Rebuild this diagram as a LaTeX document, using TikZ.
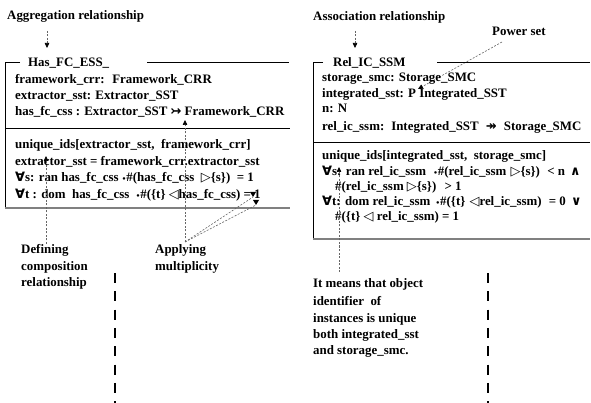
\documentclass[tikz,border=0pt]{standalone}
\usepackage{fontspec}
\setmainfont{Liberation Serif}
\newfontfamily\sym{DejaVu Sans}
\usetikzlibrary{arrows.meta}
\newcommand{\dotop}{{\fontsize{7}{7}\selectfont\sym •}}
\newcommand{\fa}{{\sym ∀}}
\begin{document}
\begin{tikzpicture}[x=1pt,y=-1pt,
  txt/.style={anchor=base west, inner sep=0pt, font=\bfseries\fontsize{12.9}{15}\selectfont},
  boxline/.style={line width=0.9pt},
  shade/.style={line width=1.6pt, black!50},
  ann/.style={dash pattern=on 2pt off 1.5pt, black!60, line width=0.6pt, -{Triangle[length=5pt,width=4.5pt,color=black]}},
  annplain/.style={dash pattern=on 2pt off 1.5pt, black!60, line width=0.6pt},
  sepline/.style={line width=2pt, dash pattern=on 10pt off 8.3pt}]
\useasboundingbox (0,0) rectangle (591,403);

% ---------- left: aggregation ----------
\node[txt] (agg) at (7,20) {Aggregation relationship};
\coordinate (aggS) at (47,31);
\coordinate (aggT) at (47,48);
\draw[ann] (aggS) -- (aggT);

\node[txt] (lname) at (28,67) {Has\_FC\_ESS\_};
\draw[boxline] (20,62) -- (5,62) -- (5,208);
\draw[boxline] (147,62) -- (289,62);
\draw[boxline] (5,128) -- (290,128);
\draw[shade] (5,208) -- (290,208);

\node[txt] (l1) at (15,84) {framework\_crr:~ Framework\_CRR};
\node[txt] (l2) at (15,100) {extractor\_sst: Extractor\_SST};
\node[txt] (l3) at (15,116) {has\_fc\_css : Extractor\_SST {\sym ↣} Framework\_CRR};
\node[txt] (l4) at (15,149) {unique\_ids[extractor\_sst,~ framework\_crr]};
\node[txt] (l5) at (15,166) {extractor\_sst = framework\_crr.extractor\_sst};
\node[txt] (l6) at (15,182) {\fa s: ran has\_fc\_css \dotop\#(has\_fc\_css~ {\sym ▷}\{s\})~ = 1};
\node[txt] (l7) at (15,199) {\fa t : dom~ has\_fc\_css~ \dotop\#(\{t\} {\sym ◁}has\_fc\_css) = 1};

\node[txt] (def1) at (21,254) {Defining};
\node[txt] (def2) at (21,270) {composition};
\node[txt] (def3) at (21,286) {relationship};
\coordinate (defS) at (46,244);
\coordinate (defT) at (46,156);
\draw[ann] (defS) -- (defT);

\node[txt] (app1) at (155,254) {Applying};
\node[txt] (app2) at (155,270) {multiplicity};
\coordinate (appS) at (185,242);
\coordinate (appT) at (185,120);
\draw[ann] (appS) -- (appT);
\coordinate (appA) at (253,197);
\coordinate (appB) at (256,205);
\draw[annplain] (appS) -- (appA);
\draw[annplain] (appS) -- (appB);
\fill (appA) ++(-3,-5) -- ++(6,0) -- ++(-3,5) -- cycle;
\fill (appB) ++(-3,-5) -- ++(6,0) -- ++(-3,5) -- cycle;

\draw[sepline] (115,273) -- (115,403);

% ---------- right: association ----------
\node[txt] (assoc) at (313,21) {Association relationship};
\coordinate (assS) at (355,31);
\coordinate (assT) at (355,48);
\draw[ann] (assS) -- (assT);

\node[txt] (pow) at (492,36) {Power set};
\coordinate (powS) at (502,42);
\coordinate (powT) at (418,89);
\draw[ann] (powS) -- (powT);

\node[txt] (rname) at (333,67) {Rel\_IC\_SSM};
\draw[boxline] (323,62) -- (313,62) -- (313,239);
\draw[boxline] (437,62) -- (590,62);
\draw[boxline] (313,142) -- (590,142);
\draw[shade] (313,239) -- (590,239);

\node[txt] (r1) at (322,82) {storage\_smc: Storage\_SMC};
\node[txt] (r2) at (322,98) {integrated\_sst: P Integrated\_SST};
\node[txt] (r3) at (322,113) {n: N};
\node[txt] (r4) at (322,131) {rel\_ic\_ssm:\hspace{7pt}Integrated\_SST\hspace{4pt} {\sym ↠}\hspace{4pt} Storage\_SMC};
\node[txt] (r5) at (322,160) {unique\_ids[integrated\_sst,~ storage\_smc]};
\node[txt] (r6) at (322,176) {\fa s: ran rel\_ic\_ssm\hspace{4pt} \dotop\#(rel\_ic\_ssm\hspace{1pt} {\sym ▷}\{s\})\hspace{4pt} < n\hspace{2pt} {\sym ∧}};
\node[txt] (r7) at (335,191) {\#(rel\_ic\_ssm {\sym ▷}\{s\})\hspace{5pt} > 1};
\node[txt] (r8) at (322,206) {\fa t: dom rel\_ic\_ssm\hspace{2pt} \dotop\#(\{t\}\hspace{1pt} {\sym ◁}rel\_ic\_ssm)\hspace{4pt} = 0\hspace{2pt} {\sym ∨}};
\node[txt] (r9) at (335,221) {\#(\{t\} {\sym ◁} rel\_ic\_ssm) = 1};

\node[txt] (m1) at (313,287) {It means that object};
\node[txt] (m2) at (313,305) {identifier~ of};
\node[txt] (m3) at (313,322) {instances is unique};
\node[txt] (m4) at (313,338) {both integrated\_sst};
\node[txt] (m5) at (313,354) {and storage\_smc.};
\coordinate (mS) at (339,272);
\coordinate (mT) at (339,167);
\draw[ann] (mS) -- (mT);

\draw[sepline] (488,273) -- (488,403);
\end{tikzpicture}
\end{document}
